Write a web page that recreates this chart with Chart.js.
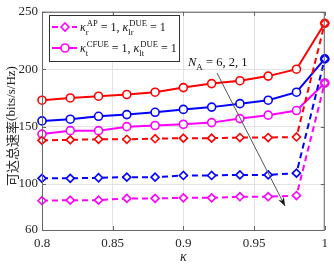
<!DOCTYPE html>
<html>
<head>
<meta charset="utf-8">
<script src="https://cdn.jsdelivr.net/npm/chart.js@4.4.1/dist/chart.umd.min.js"></script>
<style>
  body { margin: 0; background: #fff; }
  canvas { display: block; }
</style>
</head>
<body>
<canvas id="rate" width="334" height="264"></canvas>
<script>
// kappa values on x axis
const kappa = [0.8, 0.82, 0.84, 0.86, 0.88, 0.9, 0.92, 0.94, 0.96, 0.98, 1.0];

// solid lines: kappa_t^CFUE = 1, kappa_lt^DUE = 1
const solidRed  = [173, 175, 176.5, 178, 180, 184, 187.5, 190, 194, 200, 240];
const solidBlue = [155, 156.5, 159, 160.5, 162.5, 165, 167, 170, 173, 180, 209];
const solidMag  = [143.5, 146.5, 146.5, 150, 151, 152, 153.5, 157, 160, 164, 188];

// dashed lines: kappa_r^AP = 1, kappa_lr^DUE = 1
const dashRed  = [138, 138.5, 139, 139, 139.5, 140, 140, 140.5, 140.5, 141, 240];
const dashBlue = [105, 105, 105.5, 106, 106, 107.5, 107.5, 108, 108, 109.5, 209];
const dashMag  = [85.5, 86, 86, 87.5, 87.5, 88, 88, 89, 89, 90, 188];

const xTicks = [0.8, 0.85, 0.9, 0.95, 1];
const yTicks = [60, 100, 150, 200, 250];

const SERIF = '"Liberation Serif", "DejaVu Serif", serif';

function pts(vals) {
  return vals.map((v, i) => ({ x: kappa[i], y: v }));
}

function makeSet(vals, color, dashed) {
  return {
    data: pts(vals),
    borderColor: color,
    backgroundColor: '#fff',
    borderWidth: 2,
    borderDash: dashed ? [6, 4] : [],
    pointStyle: dashed ? 'rectRot' : 'circle',
    pointRadius: 4,
    pointBorderWidth: 1.6,
    pointBorderColor: color,
    pointBackgroundColor: '#fff',
    tension: 0,
    clip: false
  };
}

// draws text pieces: [text, kind] kind = n | i | sub | supsub
function rich(ctx, x, y, parts, size) {
  ctx.textBaseline = 'alphabetic';
  ctx.textAlign = 'left';
  for (const p of parts) {
    if (p[1] === 'n' || p[1] === 'i') {
      ctx.font = (p[1] === 'i' ? 'italic ' : '') + size + 'px ' + SERIF;
      ctx.fillText(p[0], x, y);
      x += ctx.measureText(p[0]).width;
    } else if (p[1] === 'sub') {
      ctx.font = (size * 0.72) + 'px ' + SERIF;
      ctx.fillText(p[0], x, y + size * 0.3);
      x += ctx.measureText(p[0]).width;
    } else if (p[1] === 'supsub') {
      ctx.font = (size * 0.72) + 'px ' + SERIF;
      ctx.fillText(p[0], x + 1, y - size * 0.45);
      ctx.fillText(p[2], x, y + size * 0.3);
      x += Math.max(ctx.measureText(p[0]).width + 1, ctx.measureText(p[2]).width);
    }
  }
  return x;
}

const extras = {
  id: 'extras',
  afterDraw(chart) {
    const ctx = chart.ctx;
    const a = chart.chartArea;
    const xs = chart.scales.x, ys = chart.scales.y;
    ctx.save();

    // box + inward ticks
    ctx.strokeStyle = '#666';
    ctx.lineWidth = 1;
    ctx.strokeRect(a.left + 0.5, a.top + 0.5, a.right - a.left - 1, a.bottom - a.top);
    ctx.beginPath();
    xTicks.forEach(v => {
      const px = Math.round(xs.getPixelForValue(v)) + 0.5;
      ctx.moveTo(px, a.bottom); ctx.lineTo(px, a.bottom - 4);
      ctx.moveTo(px, a.top); ctx.lineTo(px, a.top + 4);
    });
    yTicks.forEach(v => {
      const py = Math.round(ys.getPixelForValue(v)) + 0.5;
      ctx.moveTo(a.left, py); ctx.lineTo(a.left + 4, py);
      ctx.moveTo(a.right, py); ctx.lineTo(a.right - 4, py);
    });
    ctx.stroke();

    // legend box
    ctx.fillStyle = '#fff';
    ctx.fillRect(49, 15, 130, 46);
    ctx.strokeStyle = '#333';
    ctx.strokeRect(49.5, 15.5, 130, 46);

    ctx.strokeStyle = '#ff00ff';
    ctx.lineWidth = 2;
    ctx.setLineDash([6, 4]);
    ctx.beginPath(); ctx.moveTo(52, 27); ctx.lineTo(77, 27); ctx.stroke();
    ctx.setLineDash([]);
    ctx.beginPath(); ctx.moveTo(52, 48); ctx.lineTo(77, 48); ctx.stroke();
    ctx.lineWidth = 1.6;
    ctx.fillStyle = '#fff';
    ctx.beginPath();
    ctx.moveTo(65, 23); ctx.lineTo(69, 27); ctx.lineTo(65, 31); ctx.lineTo(61, 27); ctx.closePath();
    ctx.fill(); ctx.stroke();
    ctx.beginPath(); ctx.arc(65, 48, 4, 0, Math.PI * 2); ctx.fill(); ctx.stroke();

    ctx.fillStyle = '#111';
    rich(ctx, 80, 31, [['\u03BA', 'i'], ['AP', 'supsub', 'r'], [' = 1, ', 'n'], ['\u03BA', 'i'], ['DUE', 'supsub', 'lr'], [' = 1', 'n']], 12);
    rich(ctx, 80, 52, [['\u03BA', 'i'], ['CFUE', 'supsub', 't'], [' = 1, ', 'n'], ['\u03BA', 'i'], ['DUE', 'supsub', 'lt'], [' = 1', 'n']], 12);

    // annotation
    rich(ctx, 188, 66, [['N', 'i'], ['A', 'sub'], [' = 6, 2, 1', 'n']], 12.5);
    ctx.strokeStyle = '#555';
    ctx.fillStyle = '#111';
    ctx.lineWidth = 1;
    const x0 = 217, y0 = 73, x1 = 285, y1 = 206;
    ctx.beginPath(); ctx.moveTo(x0, y0); ctx.lineTo(x1, y1); ctx.stroke();
    const ang = Math.atan2(y1 - y0, x1 - x0);
    ctx.beginPath();
    ctx.moveTo(x1, y1);
    ctx.lineTo(x1 - 9 * Math.cos(ang - 0.35), y1 - 9 * Math.sin(ang - 0.35));
    ctx.lineTo(x1 - 6 * Math.cos(ang), y1 - 6 * Math.sin(ang));
    ctx.lineTo(x1 - 9 * Math.cos(ang + 0.35), y1 - 9 * Math.sin(ang + 0.35));
    ctx.closePath();
    ctx.fill();

    // axis titles
    ctx.fillStyle = '#262626';
    ctx.font = 'italic 14px ' + SERIF;
    ctx.textAlign = 'center';
    ctx.textBaseline = 'alphabetic';
    ctx.fillText('\u03BA', (a.left + a.right) / 2, 261);

    ctx.translate(12, 126);
    ctx.rotate(-Math.PI / 2);
    ctx.textBaseline = 'middle';
    ctx.font = '13px "Noto Sans CJK SC"';
    const cn = '可达总速率';
    const cw = ctx.measureText(cn).width;
    ctx.font = '13px ' + SERIF;
    const en = '(bits/s/Hz)';
    const ew = ctx.measureText(en).width;
    const sx = -(cw + ew) / 2;
    ctx.textAlign = 'left';
    ctx.font = '13px "Noto Sans CJK SC"';
    ctx.fillText(cn, sx, 0);
    ctx.font = '13px ' + SERIF;
    ctx.fillText(en, sx + cw, 0);
    ctx.restore();
  }
};

const ctx1 = document.getElementById('rate').getContext('2d');

const rateChart = new Chart(ctx1, {
  type: 'line',
  data: {
    datasets: [
      makeSet(dashRed, '#ff0000', true),
      makeSet(dashBlue, '#0000ff', true),
      makeSet(dashMag, '#ff00ff', true),
      makeSet(solidRed, '#ff0000', false),
      makeSet(solidBlue, '#0000ff', false),
      makeSet(solidMag, '#ff00ff', false)
    ]
  },
  options: {
    responsive: false,
    animation: false,
    layout: { padding: { top: 8, right: 7, left: 0, bottom: 0 } },
    plugins: { legend: { display: false }, tooltip: { enabled: false } },
    scales: {
      x: {
        type: 'linear',
        min: 0.8,
        max: 1,
        afterBuildTicks: s => { s.ticks = xTicks.map(v => ({ value: v })); },
        afterFit: s => { s.height = 34; },
        ticks: {
          font: { family: SERIF, size: 13 },
          color: '#262626',
          padding: 6,
          maxRotation: 0,
          callback: v => String(v)
        },
        grid: { color: '#e3e3e3', drawTicks: false },
        border: { display: false }
      },
      y: {
        min: 60,
        max: 250,
        afterBuildTicks: s => { s.ticks = yTicks.map(v => ({ value: v })); },
        afterFit: s => { s.width = 42; },
        ticks: {
          font: { family: SERIF, size: 13 },
          color: '#262626',
          padding: 4
        },
        grid: { color: '#e3e3e3', drawTicks: false },
        border: { display: false }
      }
    }
  },
  plugins: [extras]
});
</script>
</body>
</html>
